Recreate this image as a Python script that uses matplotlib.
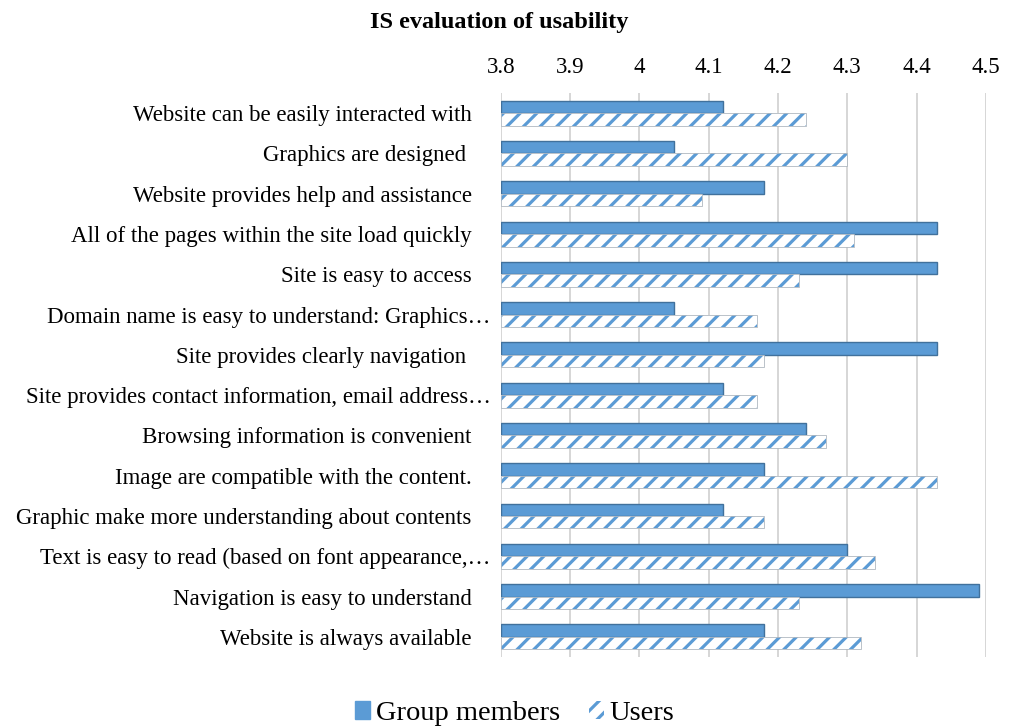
import matplotlib
matplotlib.use("Agg")
import matplotlib.pyplot as plt
import matplotlib.transforms as mtransforms
from matplotlib.patches import Patch
import numpy as np

categories = [
    "Website can be easily interacted with",
    "Graphics are designed ",
    "Website provides help and assistance",
    "All of the pages within the site load quickly",
    "Site is easy to access",
    "Domain name is easy to understand: Graphics\u2026",
    "Site provides clearly navigation ",
    "Site provides contact information, email address\u2026",
    "Browsing information is convenient",
    "Image are compatible with the content.",
    "Graphic make more understanding about contents",
    "Text is easy to read (based on font appearance,\u2026",
    "Navigation is easy to understand",
    "Website is always available",
]
group_members = [4.12, 4.05, 4.18, 4.43, 4.43, 4.05, 4.43, 4.12, 4.24, 4.18, 4.12, 4.30, 4.49, 4.18]
users = [4.24, 4.30, 4.09, 4.31, 4.23, 4.17, 4.18, 4.17, 4.27, 4.43, 4.18, 4.34, 4.23, 4.32]
xticks = [3.8, 3.9, 4.0, 4.1, 4.2, 4.3, 4.4, 4.5]
xticklabels = ["3.8", "3.9", "4", "4.1", "4.2", "4.3", "4.4", "4.5"]

plt.rcParams['font.family'] = ['Liberation Serif', 'DejaVu Serif']
plt.rcParams['hatch.linewidth'] = 2.3

blue = '#5B9BD5'
dark = '#41719C'

fig = plt.figure(figsize=(10.09, 7.27), dpi=100)
ax = fig.add_axes([0.4965, 0.0963, 0.977 - 0.4965, 0.872 - 0.0963])

y = np.arange(len(categories))
h = 0.31
ax.barh(y - h / 2, [g - 3.8 for g in group_members], left=3.8, height=h,
        color=blue, edgecolor=dark, linewidth=1.0, zorder=3)
ax.barh(y + h / 2, [u - 3.8 for u in users], left=3.8, height=h,
        color='white', edgecolor=blue, hatch='//', linewidth=0, zorder=3)
ax.barh(y + h / 2, [u - 3.8 for u in users], left=3.8, height=h,
        fill=False, edgecolor='#B0B8C0', linewidth=0.6, zorder=4)

ax.set_xlim(3.8, 4.5)
ax.set_ylim(len(categories) - 0.5, -0.5)
ax.set_xticks(xticks)
ax.set_xticklabels(xticklabels, fontsize=16.5)
ax.xaxis.tick_top()
ax.tick_params(axis='x', length=0, pad=11)
ax.set_yticks(y)
ax.set_yticklabels(categories, fontsize=16.5)
ax.tick_params(axis='y', length=0, pad=21)
shift = mtransforms.ScaledTranslation(0.19, 0, fig.dpi_scale_trans)
for lab in ax.get_yticklabels():
    if lab.get_text().endswith("\u2026"):
        lab.set_transform(lab.get_transform() + shift)
ax.grid(axis='x', color='#D0D0D0', linewidth=1.2, zorder=0)
for s in ax.spines.values():
    s.set_visible(False)

fig.text(0.495, 0.969, "IS evaluation of usability", ha='center', va='center',
         fontsize=17.5, fontweight='bold')

handles = [Patch(facecolor=blue, edgecolor=blue, label='Group members'),
           Patch(facecolor='white', edgecolor=blue, hatch='//', linewidth=0, label='Users')]
fig.legend(handles=handles, loc='center', bbox_to_anchor=(0.51, 0.018), ncol=2,
           frameon=False, fontsize=20.5, handlelength=0.55, handleheight=0.6,
           handletextpad=0.2, columnspacing=1.0)

fig.savefig("out.png", dpi=100)
